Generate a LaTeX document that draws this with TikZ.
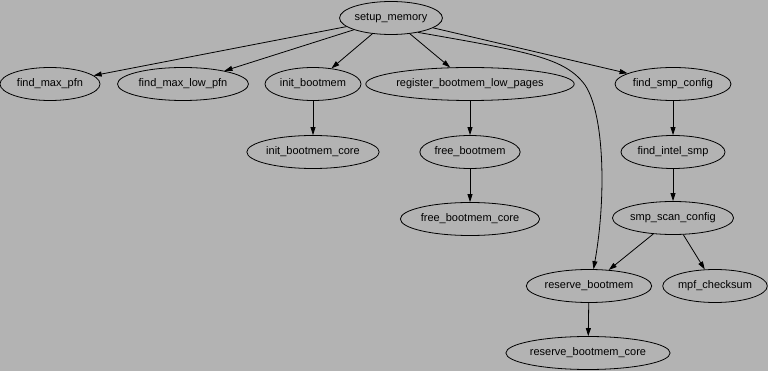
\documentclass[tikz,border=0pt]{standalone}
\usepackage{fontspec}
\setmainfont{Liberation Sans}
\usetikzlibrary{shapes.geometric,arrows.meta}
\definecolor{bggray}{RGB}{179,179,179}
\tikzset{
  fn/.style={ellipse,draw=black,line width=0.8pt,inner sep=0pt,minimum height=33pt,font=\fontsize{11}{13}\selectfont},
  edge/.style={draw=black,line width=0.8pt,-{Triangle[length=8pt,width=5pt]}}
}
\begin{document}
\begin{tikzpicture}[x=1pt,y=-1pt]
\fill[bggray] (0,0) rectangle (768,371);
\useasboundingbox (0,0) rectangle (768,371);
\node[fn,minimum width=98pt] (sm) at (391,18) {setup\_memory};
\node[fn,minimum width=100pt] (fmp) at (50,84) {find\_max\_pfn};
\node[fn,minimum width=131pt] (fmlp) at (183,84) {find\_max\_low\_pfn};
\node[fn,minimum width=96pt] (ib) at (313,84) {init\_bootmem};
\node[fn,minimum width=186pt] (rblp) at (470,84) {register\_bootmem\_low\_pages};
\node[fn,minimum width=116pt] (fsc) at (673,84) {find\_smp\_config};
\node[fn,minimum width=128pt] (ibc) at (313,152) {init\_bootmem\_core};
\node[fn,minimum width=99pt] (fb) at (470,152) {free\_bootmem};
\node[fn,minimum width=104pt] (fis) at (673,152) {find\_intel\_smp};
\node[fn,minimum width=132pt] (fbc) at (470,219) {free\_bootmem\_core};
\node[fn,minimum width=116pt] (ssc) at (673,218) {smp\_scan\_config};
\node[fn,minimum width=115pt] (rb) at (589,286) {reserve\_bootmem};
\node[fn,minimum width=104pt] (mc) at (715,286) {mpf\_checksum};
\node[fn,minimum width=147pt] (rbc) at (588,353) {reserve\_bootmem\_core};

\draw[edge] (sm) -- (fmp);
\draw[edge] (sm) -- (fmlp);
\draw[edge] (sm) -- (ib);
\draw[edge] (sm) -- (rblp);
\draw[edge] (sm) -- (fsc);
\draw[edge] (sm.-28) .. controls (530,52) and (565,58) .. (585,85)
  .. controls (605,115) and (606,200) .. (rb.75);
\draw[edge] (ib) -- (ibc);
\draw[edge] (rblp) -- (fb);
\draw[edge] (fb) -- (fbc);
\draw[edge] (fsc) -- (fis);
\draw[edge] (fis) -- (ssc);
\draw[edge] (ssc) -- (rb);
\draw[edge] (ssc) -- (mc);
\draw[edge] (rb) -- (rbc);
\end{tikzpicture}
\end{document}
